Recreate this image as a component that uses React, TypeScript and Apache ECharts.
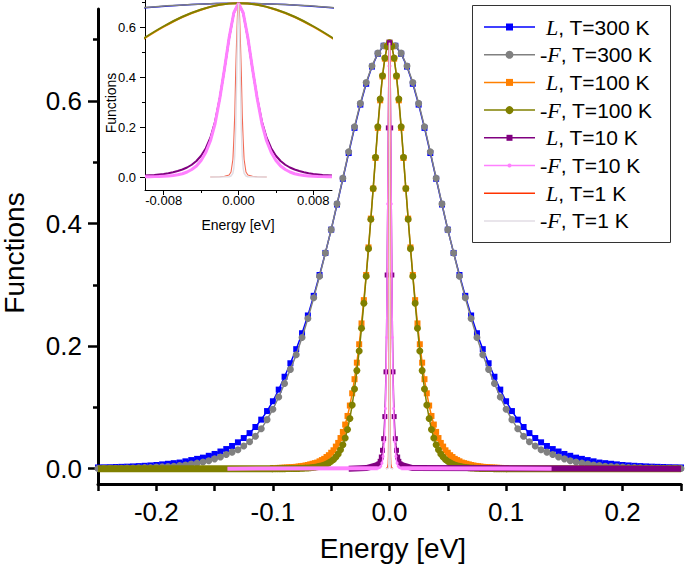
import React, { useEffect, useRef } from "react";
import * as echarts from "echarts";

// ---------- data ----------
// T = 300 K curves, energy grid -0.25 .. 0.25 eV, step 0.005
const E300_START = -0.25;
const E300_STEP = 0.005;
const L300 = [
  0.002, 0.0022, 0.0024, 0.0027, 0.003, 0.0033, 0.0037, 0.0042, 0.0047, 0.0053,
  0.006, 0.007, 0.008, 0.009, 0.010, 0.012, 0.014, 0.016, 0.018, 0.021,
  0.024, 0.028, 0.032, 0.037, 0.043, 0.050, 0.058, 0.068, 0.080, 0.094,
  0.110, 0.129, 0.150, 0.172, 0.195, 0.221, 0.250, 0.282, 0.316, 0.352,
  0.390, 0.431, 0.473, 0.515, 0.556, 0.594, 0.628, 0.656, 0.677, 0.690,
  0.695,
  0.690, 0.677, 0.656, 0.628, 0.594, 0.556, 0.515, 0.473, 0.431, 0.390,
  0.352, 0.316, 0.282, 0.250, 0.221, 0.195, 0.172, 0.150, 0.129, 0.110,
  0.094, 0.080, 0.068, 0.058, 0.050, 0.043, 0.037, 0.032, 0.028, 0.024,
  0.021, 0.018, 0.016, 0.014, 0.012, 0.010, 0.009, 0.008, 0.007, 0.006,
  0.0053, 0.0047, 0.0042, 0.0037, 0.0033, 0.003, 0.0027, 0.0024, 0.0022, 0.002,
];
const F300 = [
  0.0004, 0.0005, 0.0006, 0.0007, 0.0008, 0.001, 0.0012, 0.0014, 0.0017, 0.002,
  0.0025, 0.003, 0.0035, 0.004, 0.005, 0.006, 0.0075, 0.009, 0.011, 0.013,
  0.016, 0.019, 0.023, 0.027, 0.031, 0.037, 0.044, 0.053, 0.065, 0.080,
  0.097, 0.117, 0.139, 0.162, 0.186, 0.214, 0.245, 0.279, 0.314, 0.352,
  0.390, 0.432, 0.474, 0.517, 0.558, 0.596, 0.630, 0.657, 0.678, 0.690,
  0.695,
  0.690, 0.678, 0.657, 0.630, 0.596, 0.558, 0.517, 0.474, 0.432, 0.390,
  0.352, 0.314, 0.279, 0.245, 0.214, 0.186, 0.162, 0.139, 0.117, 0.097,
  0.080, 0.065, 0.053, 0.044, 0.037, 0.031, 0.027, 0.023, 0.019, 0.016,
  0.013, 0.011, 0.009, 0.0075, 0.006, 0.005, 0.004, 0.0035, 0.003, 0.0025,
  0.002, 0.0017, 0.0014, 0.0012, 0.001, 0.0008, 0.0007, 0.0006, 0.0005, 0.0004,
];

// T = 100 K curves, energy grid -0.1 .. 0.1 eV, step 0.002
const E100_START = -0.1;
const E100_STEP = 0.002;
const L100 = [
  0.001, 0.0011, 0.0012, 0.0013, 0.0015, 0.0017, 0.0019, 0.0021, 0.0024, 0.0027,
  0.003, 0.0035, 0.004, 0.0045, 0.0052, 0.006, 0.007, 0.008, 0.009, 0.010,
  0.012, 0.014, 0.016, 0.019, 0.022, 0.026, 0.030, 0.036, 0.042, 0.050,
  0.060, 0.072, 0.086, 0.103, 0.123, 0.146, 0.173, 0.203, 0.237, 0.275,
  0.316, 0.361, 0.408, 0.457, 0.507, 0.556, 0.601, 0.640, 0.669, 0.689,
  0.695,
  0.689, 0.669, 0.640, 0.601, 0.556, 0.507, 0.457, 0.408, 0.361, 0.316,
  0.275, 0.237, 0.203, 0.173, 0.146, 0.123, 0.103, 0.086, 0.072, 0.060,
  0.050, 0.042, 0.036, 0.030, 0.026, 0.022, 0.019, 0.016, 0.014, 0.012,
  0.010, 0.009, 0.008, 0.007, 0.006, 0.0052, 0.0045, 0.004, 0.0035, 0.003,
  0.0027, 0.0024, 0.0021, 0.0019, 0.0017, 0.0015, 0.0013, 0.0012, 0.0011, 0.001,
];
const F100 = [
  0, 0, 0.0001, 0.0001, 0.0001, 0.0001, 0.0002, 0.0002, 0.0003, 0.0003,
  0.0004, 0.0005, 0.0006, 0.0008, 0.001, 0.0012, 0.0015, 0.0019, 0.0024, 0.003,
  0.0038, 0.0048, 0.006, 0.0075, 0.0095, 0.012, 0.015, 0.019, 0.024, 0.031,
  0.039, 0.050, 0.064, 0.082, 0.104, 0.130, 0.160, 0.192, 0.229, 0.270,
  0.314, 0.359, 0.407, 0.457, 0.508, 0.558, 0.603, 0.641, 0.670, 0.689,
  0.695,
  0.689, 0.670, 0.641, 0.603, 0.558, 0.508, 0.457, 0.407, 0.359, 0.314,
  0.270, 0.229, 0.192, 0.160, 0.130, 0.104, 0.082, 0.064, 0.050, 0.039,
  0.031, 0.024, 0.019, 0.015, 0.012, 0.0095, 0.0075, 0.006, 0.0048, 0.0038,
  0.003, 0.0024, 0.0019, 0.0015, 0.0012, 0.001, 0.0008, 0.0006, 0.0005, 0.0004,
  0.0003, 0.0003, 0.0002, 0.0002, 0.0001, 0.0001, 0.0001, 0.0001, 0, 0,
];
// flat tails of -F (100 K) beyond |E| = 0.1
const F100_TAIL_L = [[-0.25, 0], [-0.1, 0]];
const F100_TAIL_R = [[0.1, 0], [0.25, 0]];

// T = 10 K curves, energy grid -0.01 .. 0.01 eV, step 0.0005
const E10_START = -0.01;
const E10_STEP = 0.0005;
const L10 = [
  0.006, 0.007, 0.008, 0.010, 0.012, 0.015, 0.019, 0.024, 0.030, 0.038,
  0.049, 0.064, 0.085, 0.115, 0.158, 0.222, 0.316, 0.431, 0.556, 0.656,
  0.695,
  0.656, 0.556, 0.431, 0.316, 0.222, 0.158, 0.115, 0.085, 0.064, 0.049,
  0.038, 0.030, 0.024, 0.019, 0.015, 0.012, 0.010, 0.008, 0.007, 0.006,
];
const F10 = [
  0.0007, 0.001, 0.0015, 0.002, 0.003, 0.004, 0.006, 0.009, 0.013, 0.020,
  0.030, 0.044, 0.066, 0.098, 0.145, 0.214, 0.314, 0.432, 0.558, 0.657,
  0.695,
  0.657, 0.558, 0.432, 0.314, 0.214, 0.145, 0.098, 0.066, 0.044, 0.030,
  0.020, 0.013, 0.009, 0.006, 0.004, 0.003, 0.002, 0.0015, 0.001, 0.0007,
];
const L10_TAIL_L = [[-0.035, 0], [-0.02, 0.001], [-0.01, 0.006]];
const L10_TAIL_R = [[0.01, 0.006], [0.02, 0.001], [0.25, 0]];
const F10_TAIL_L = [[-0.139, 0], [-0.01, 0.0007]];
const F10_TAIL_R = [[0.01, 0.0007], [0.139, 0]];

// T = 1 K curves
const E1 = [
  -0.003, -0.002, -0.0015, -0.001, -0.0008, -0.0006, -0.0005, -0.0004, -0.0003, -0.0002, -0.0001,
  0,
  0.0001, 0.0002, 0.0003, 0.0004, 0.0005, 0.0006, 0.0008, 0.001, 0.0015, 0.002, 0.003,
];
const L1 = [
  0, 0.001, 0.003, 0.008, 0.02, 0.07, 0.15, 0.25, 0.42, 0.55, 0.66,
  0.695,
  0.66, 0.55, 0.42, 0.25, 0.15, 0.07, 0.02, 0.008, 0.003, 0.001, 0,
];
const F1 = [
  0, 0, 0.0003, 0.001, 0.004, 0.015, 0.035, 0.085, 0.19, 0.38, 0.59,
  0.695,
  0.59, 0.38, 0.19, 0.085, 0.035, 0.015, 0.004, 0.001, 0.0003, 0, 0,
];

// axes ticks / labels
const MAIN_X_TICKS = [-0.25, -0.2, -0.15, -0.1, -0.05, 0, 0.05, 0.1, 0.15, 0.2, 0.25];
const MAIN_X_LABELS = [-0.2, -0.1, 0, 0.1, 0.2];
const MAIN_Y_MAJOR = [0, 0.2, 0.4, 0.6];
const MAIN_Y_MINOR = [0.1, 0.3, 0.5, 0.7];
const INSET_X_MAJOR = [-0.008, 0, 0.008];
const INSET_X_MINOR = [-0.004, 0.004];
const INSET_Y_MAJOR = [0, 0.2, 0.4, 0.6];
const INSET_Y_MINOR = [0.1, 0.3, 0.5, 0.7];

// legend entries
const LEGEND_SYMBOLS = ["L", "-F", "L", "-F", "L", "-F", "L", "-F"];
const LEGEND_TEMPS = ["300", "300", "100", "100", "10", "10", "1", "1"];

// ---------- styling ----------
const BLUE = "#0000ff";
const GRAY = "#808080";
const ORANGE = "#ff8000";
const OLIVE = "#808000";
const PURPLE = "#800080";
const PINK = "#ff80ff";
const RED = "#ff3300";
const LGRAY = "#e2dde4";
const SANS = "'Liberation Sans', Arial, sans-serif";
const SERIF = "'Liberation Serif', 'Times New Roman', serif";

const onGrid = (start: number, step: number, ys: number[]) =>
  ys.map((y, i) => [Number((start + i * step).toFixed(6)), y]);
const zip = (xs: number[], ys: number[]) => xs.map((x, i) => [x, ys[i]]);

const pts = {
  L300: onGrid(E300_START, E300_STEP, L300),
  F300: onGrid(E300_START, E300_STEP, F300),
  L100: onGrid(E100_START, E100_STEP, L100),
  F100: onGrid(E100_START, E100_STEP, F100),
  L10: onGrid(E10_START, E10_STEP, L10),
  F10: onGrid(E10_START, E10_STEP, F10),
  L1: zip(E1, L1),
  F1: zip(E1, F1),
};

const STYLE = [
  { color: BLUE, symbol: "rect", size: 6 },
  { color: GRAY, symbol: "circle", size: 7 },
  { color: ORANGE, symbol: "rect", size: 6 },
  { color: OLIVE, symbol: "circle", size: 7 },
  { color: PURPLE, symbol: "rect", size: 5 },
  { color: PINK, symbol: "circle", size: 3 },
  { color: RED, symbol: "none", size: 0 },
  { color: LGRAY, symbol: "none", size: 0 },
];

function buildOption() {
  const keys = ["L300", "F300", "L100", "F100", "L10", "F10", "L1", "F1"] as const;
  const names = keys.map(
    (_, i) => `${LEGEND_SYMBOLS[i]}, T=${LEGEND_TEMPS[i]} K`
  );

  const band = (data: number[][], color: string, width: number) => ({
    type: "line",
    xAxisIndex: 0,
    yAxisIndex: 0,
    data,
    symbol: "none",
    silent: true,
    lineStyle: { color, width, cap: "butt" },
  });

  const mainSeries: any[] = [];
  keys.forEach((k, i) => {
    const st = STYLE[i];
    const s: any = {
      type: "line",
      name: names[i],
      xAxisIndex: 0,
      yAxisIndex: 0,
      data: pts[k],
      silent: true,
      lineStyle: { color: st.color, width: 1.5 },
      itemStyle: { color: st.color },
      symbol: st.symbol,
      symbolSize: st.size,
      showSymbol: st.symbol !== "none",
    };
    if (k === "L10") {
      s.symbolSize = (_v: any, p: any) => (p.dataIndex % 2 === 0 ? st.size : 0);
    }
    if (k === "F10") {
      s.symbolSize = (_v: any, p: any) => (p.dataIndex % 2 === 1 ? st.size : 0);
    }
    mainSeries.push(s);
    if (k === "F100") {
      mainSeries.push(band(F100_TAIL_L, OLIVE, 7), band(F100_TAIL_R, OLIVE, 7));
    }
    if (k === "L10") {
      mainSeries.push(band(L10_TAIL_L, PURPLE, 6), band(L10_TAIL_R, PURPLE, 6));
    }
    if (k === "F10") {
      mainSeries.push(band(F10_TAIL_L, PINK, 4), band(F10_TAIL_R, PINK, 4));
    }
  });
  // layer series in drawing order (later on top)
  mainSeries.forEach((s, i) => {
    s.z = 2 + i;
  });

  const insetWidths = [1.5, 1.5, 2, 2, 2, 3, 1.1, 1.4];
  const insetColors = [BLUE, GRAY, ORANGE, OLIVE, PURPLE, PINK, "#f26a55", LGRAY];
  const insetSeries = keys.map((k, i) => ({
    type: "line",
    name: names[i] + " (inset)",
    xAxisIndex: 1,
    yAxisIndex: 2,
    data: pts[k],
    silent: true,
    symbol: "none",
    z: 30 + i,
    smooth: i < 4 ? 0.3 : false,
    lineStyle: { color: insetColors[i], width: insetWidths[i] },
  }));

  // legend drawn as graphic elements
  const legendEls: any[] = [
    {
      type: "rect",
      z: 100,
      shape: { x: 472.5, y: 5.5, width: 198, height: 237 },
      style: { fill: "#fff", stroke: "#333", lineWidth: 1 },
    },
  ];
  LEGEND_SYMBOLS.forEach((sym, i) => {
    const cy = 27 + i * 27.7;
    const st = STYLE[i];
    legendEls.push({
      type: "line",
      z: 101,
      shape: { x1: 484, y1: cy, x2: 535, y2: cy },
      style: { stroke: st.color, lineWidth: 1.5 },
    });
    if (st.symbol === "rect") {
      const s = st.size + 1;
      legendEls.push({
        type: "rect",
        z: 102,
        shape: { x: 509.5 - s / 2, y: cy - s / 2, width: s, height: s },
        style: { fill: st.color },
      });
    } else if (st.symbol === "circle") {
      legendEls.push({
        type: "circle",
        z: 102,
        shape: { cx: 509.5, cy, r: (st.size + 1) / 2 },
        style: { fill: st.color },
      });
    }
    legendEls.push({
      type: "text",
      z: 102,
      x: sym === "L" ? 546 : 540,
      y: cy,
      style: {
        text: `{it|${sym}}{rm|, T=${LEGEND_TEMPS[i]} K}`,
        rich: {
          it: { fontFamily: SERIF, fontStyle: "italic", fontSize: 22, fill: "#000" },
          rm: { fontFamily: SANS, fontSize: 21, fill: "#000" },
        },
        textAlign: "left",
        textVerticalAlign: "middle",
        align: "left",
        verticalAlign: "middle",
      },
    });
  });

  const title = (text: string, x: number, y: number, size: number, rot = 0) => ({
    type: "text",
    z: 100,
    x,
    y,
    rotation: rot,
    style: {
      text,
      fontFamily: SANS,
      fontSize: size,
      fill: "#000",
      textAlign: "center",
      textVerticalAlign: "middle",
      align: "center",
      verticalAlign: "middle",
    },
  });

  const fmt1 = (v: number) => (Math.abs(v) < 1e-9 ? "0.0" : v.toFixed(1));
  const fmt3 = (v: number) => (Math.abs(v) < 1e-9 ? "0.000" : v.toFixed(3));

  return {
    animation: false,
    backgroundColor: "#fff",
    grid: [
      { left: 98, top: 9, width: 583, height: 475 },
      { left: 145, top: 0, width: 187, height: 190 },
    ],
    xAxis: [
      {
        type: "value",
        gridIndex: 0,
        position: "bottom",
        min: -0.25,
        max: 0.25,
        interval: 0.05,
        axisLine: { onZero: false, lineStyle: { color: "#000", width: 3 } },
        axisTick: { customValues: MAIN_X_TICKS, length: 7, lineStyle: { color: "#000", width: 2.5 } },
        axisLabel: {
          customValues: MAIN_X_LABELS,
          formatter: fmt1,
          fontSize: 26,
          fontFamily: SANS,
          color: "#000",
          margin: 15,
        },
        splitLine: { show: false },
      },
      {
        type: "value",
        gridIndex: 1,
        position: "bottom",
        min: -0.01,
        max: 0.01,
        axisLine: { onZero: false, lineStyle: { color: "#000", width: 1 } },
        axisTick: { customValues: INSET_X_MAJOR, length: 5, lineStyle: { color: "#000", width: 1 } },
        axisLabel: {
          customValues: INSET_X_MAJOR,
          formatter: fmt3,
          fontSize: 13,
          fontFamily: SANS,
          color: "#000",
          margin: 4,
        },
        splitLine: { show: false },
      },
      {
        type: "value",
        gridIndex: 1,
        position: "bottom",
        min: -0.01,
        max: 0.01,
        axisLine: { show: false, onZero: false },
        axisTick: { customValues: INSET_X_MINOR, length: 3, lineStyle: { color: "#000", width: 1 } },
        axisLabel: { show: false },
        splitLine: { show: false },
      },
    ],
    yAxis: [
      {
        type: "value",
        gridIndex: 0,
        position: "left",
        min: -0.025,
        max: 0.75,
        axisLine: { show: true, onZero: false, lineStyle: { color: "#000", width: 3 } },
        axisTick: { show: true, customValues: MAIN_Y_MAJOR, length: 10, lineStyle: { color: "#000", width: 2.5 } },
        axisLabel: {
          customValues: MAIN_Y_MAJOR,
          formatter: fmt1,
          fontSize: 26,
          fontFamily: SANS,
          color: "#000",
          margin: 16,
        },
        splitLine: { show: false },
      },
      {
        type: "value",
        gridIndex: 0,
        position: "left",
        min: -0.025,
        max: 0.75,
        axisLine: { show: false, onZero: false },
        axisTick: { show: true, customValues: MAIN_Y_MINOR, length: 5, lineStyle: { color: "#000", width: 2.5 } },
        axisLabel: { show: false },
        splitLine: { show: false },
      },
      {
        type: "value",
        gridIndex: 1,
        position: "left",
        min: -0.052,
        max: 0.708,
        axisLine: { show: true, onZero: false, lineStyle: { color: "#000", width: 1 } },
        axisTick: { show: true, customValues: INSET_Y_MAJOR, length: 5, lineStyle: { color: "#000", width: 1 } },
        axisLabel: {
          customValues: INSET_Y_MAJOR,
          formatter: fmt1,
          fontSize: 13,
          fontFamily: SANS,
          color: "#000",
          margin: 9,
        },
        splitLine: { show: false },
      },
      {
        type: "value",
        gridIndex: 1,
        position: "left",
        min: -0.052,
        max: 0.708,
        axisLine: { show: false, onZero: false },
        axisTick: { show: true, customValues: INSET_Y_MINOR, length: 3, lineStyle: { color: "#000", width: 1 } },
        axisLabel: { show: false },
        splitLine: { show: false },
      },
    ],
    series: [...mainSeries, ...insetSeries],
    graphic: [
      title("Energy [eV]", 393, 548, 28),
      title("Functions", 14, 253, 28, Math.PI / 2),
      title("Energy [eV]", 238, 225, 14),
      title("Functions", 111, 103, 14, Math.PI / 2),
      ...legendEls,
    ],
  };
}

export default function App() {
  const ref = useRef<HTMLDivElement>(null);
  useEffect(() => {
    if (!ref.current) return;
    const chart = echarts.init(ref.current, undefined, { renderer: "svg" });
    chart.setOption(buildOption() as any);
    return () => chart.dispose();
  }, []);
  return (
    <div
      ref={ref}
      style={{ position: "fixed", left: 0, top: 0, width: 685, height: 570, background: "#fff" }}
    />
  );
}
